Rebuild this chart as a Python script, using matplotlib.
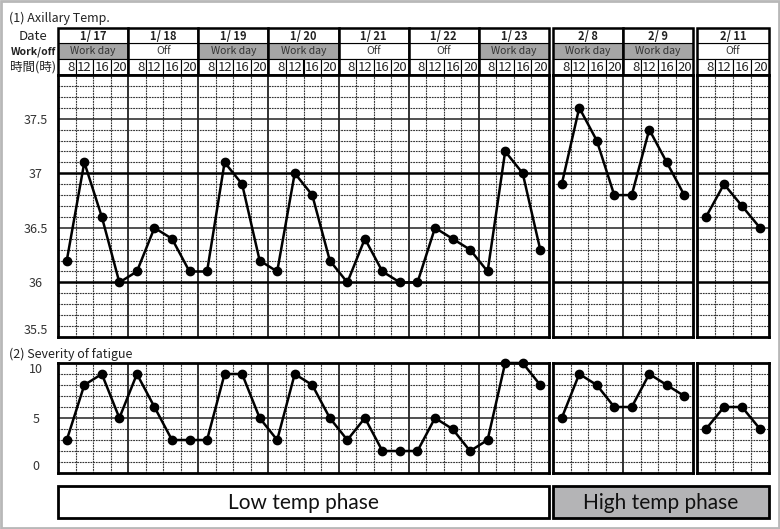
import matplotlib.pyplot as plt
import matplotlib.transforms as mtransforms
from matplotlib.patches import Rectangle

plt.rcParams['font.family'] = ['Noto Sans CJK JP', 'DejaVu Sans']

# data
dates = ["1/ 17", "1/ 18", "1/ 19", "1/ 20", "1/ 21", "1/ 22", "1/ 23", "2/ 8", "2/ 9", "2/ 11"]
status = ["Work day", "Off", "Work day", "Work day", "Off", "Off", "Work day", "Work day", "Work day", "Off"]
hours = ["8", "12", "16", "20"]
temp = [[36.2, 37.1, 36.6, 36.0], [36.1, 36.5, 36.4, 36.1], [36.1, 37.1, 36.9, 36.2],
        [36.1, 37.0, 36.8, 36.2], [36.0, 36.4, 36.1, 36.0], [36.0, 36.5, 36.4, 36.3],
        [36.1, 37.2, 37.0, 36.3], [36.9, 37.6, 37.3, 36.8], [36.8, 37.4, 37.1, 36.8],
        [36.6, 36.9, 36.7, 36.5]]
fatigue = [[3, 8, 9, 5], [9, 6, 3, 3], [3, 9, 9, 5], [3, 9, 8, 5], [3, 5, 2, 2],
           [2, 5, 4, 2], [3, 10, 10, 8], [5, 9, 8, 6], [6, 9, 8, 7], [4, 6, 6, 4]]
panels = [[0, 1, 2, 3, 4, 5, 6], [7, 8], [9]]
phases = ["Low temp phase", "High temp phase"]
temp_ticks = [35.5, 36, 36.5, 37, 37.5]
temp_labels = ["35.5", "36", "36.5", "37", "37.5"]
fat_ticks = [0, 5, 10]

# layout in pixels
W, H = 780, 529
panel_x = [(58, 549), (553, 693), (697, 769)]
temp_y = (75, 337)
fat_y = (363, 473)
WORK_GRAY = "#a6a6a6"
DASH = (0, (1.6, 0.8))

fig = plt.figure(figsize=(W / 100, H / 100), dpi=100)
ov = fig.add_axes([0, 0, 1, 1], zorder=0)
ov.set_xlim(0, W)
ov.set_ylim(H, 0)
ov.axis("off")
ov.add_patch(Rectangle((1, 1), W - 2, H - 2, fill=False, ec="#b8b8b8", lw=2))


def px_axes(x0, x1, y0, y1):
    return fig.add_axes([x0 / W, 1 - y1 / H, (x1 - x0) / W, (y1 - y0) / H], zorder=2)


def draw_grid(ax, n, ymin, ymax, minor, solid_thick, solid_thin):
    for k in range(1, n * 4):
        if k % 4 == 0:
            ax.axvline(k - 0.5, color="#222", lw=1.3, zorder=1)
        else:
            ax.axvline(k - 0.5, color="#333", lw=0.8, ls=DASH, zorder=1)
    v = ymin + minor
    while v < ymax - 1e-6:
        r = round(v, 2)
        if r in solid_thick:
            ax.axhline(r, color="black", lw=1.8, zorder=1)
        elif r in solid_thin:
            ax.axhline(r, color="#222", lw=1.1, zorder=1)
        else:
            ax.axhline(r, color="#333", lw=0.8, ls=DASH, zorder=1)
        v += minor


for pi, days in enumerate(panels):
    x0, x1 = panel_x[pi]
    n = len(days)
    at = px_axes(x0, x1, *temp_y)
    af = px_axes(x0, x1, *fat_y)
    for ax, vals, lims in ((at, temp, (35.5, 37.9)), (af, fatigue, (0, 10))):
        ax.set_xlim(-0.5, n * 4 - 0.5)
        ax.set_ylim(*lims)
        ax.set_xticks([])
        for s in ax.spines.values():
            s.set_linewidth(2)
        ax.tick_params(left=False)
        if pi > 0:
            ax.set_yticks([])
        ys = [v for d in days for v in vals[d]]
        ax.plot(range(len(ys)), ys, color="black", lw=1.8, marker="o", ms=6, zorder=4, clip_on=False)
    draw_grid(at, n, 35.5, 37.9, 0.1, [36.0, 37.0], [36.5, 37.5])
    draw_grid(af, n, 0, 10, 1, [], [5.0])

    if pi == 0:
        at.set_yticks(temp_ticks, temp_labels)
        af.set_yticks(fat_ticks, [str(t) for t in fat_ticks])
        for ax in (at, af):
            ax.tick_params(axis="y", length=0, pad=16, labelsize=9, labelcolor="#333")
            for lab in ax.get_yticklabels():
                lab.set_ha("center")
        at.get_yticklabels()[0].set_va("bottom")
        af.get_yticklabels()[0].set_va("bottom")
        af.get_yticklabels()[-1].set_va("top")

    # header table, x in data units of the panel, y in pixels
    tr = mtransforms.blended_transform_factory(at.transData, ov.transData)
    for i, d in enumerate(days):
        left = i * 4 - 0.5
        ov.add_patch(Rectangle((left, 43), 4, 16, transform=tr, clip_on=False,
                               fc=WORK_GRAY if status[d] == "Work day" else "white",
                               ec="black", lw=0.8))
        ov.add_patch(Rectangle((left, 28), 4, 15, transform=tr, clip_on=False,
                               fc="white", ec="black", lw=0.8))
        for j in range(4):
            ov.add_patch(Rectangle((left + j, 59), 1, 16, transform=tr, clip_on=False,
                                   fc="white", ec="black", lw=0.8))
            ov.text(left + j + 0.93, 67.5, hours[j], transform=tr, ha="right", va="center",
                    fontsize=9.5, color="#222")
        ov.add_patch(Rectangle((left, 28), 4, 47, transform=tr, clip_on=False,
                               fill=False, ec="black", lw=1.8))
        ov.text(left + 2, 36, dates[d], transform=tr, ha="center", va="center",
                fontsize=8, fontweight="bold", color="#222")
        ov.text(left + 2, 51.5, status[d], transform=tr, ha="center", va="center",
                fontsize=7.5, color="#333")

# left labels and titles
ov.text(33, 36, "Date", ha="center", va="center", fontsize=9.5, color="#222")
ov.text(33, 52, "Work/off", ha="center", va="center", fontsize=7.5, fontweight="bold", color="#222")
ov.text(33, 67, "時間(時)", ha="center", va="center", fontsize=9, color="#222")
ov.text(9, 18, "(1) Axillary Temp.", ha="left", va="center", fontsize=9, color="#222")
ov.text(9, 354, "(2) Severity of fatigue", ha="left", va="center", fontsize=9, color="#222")

# phase boxes
phase_x = [(panel_x[0][0], panel_x[0][1]), (panel_x[1][0], panel_x[2][1])]
phase_fc = ["white", "#b4b4b6"]
for (x0, x1), label, fc in zip(phase_x, phases, phase_fc):
    ov.add_patch(Rectangle((x0, 486), x1 - x0, 32, fc=fc, ec="black", lw=2))
    ov.text((x0 + x1) / 2, 503, label, ha="center", va="center", fontsize=15,
            family="Lato", color="#111")

fig.savefig("out.png", dpi=100)
